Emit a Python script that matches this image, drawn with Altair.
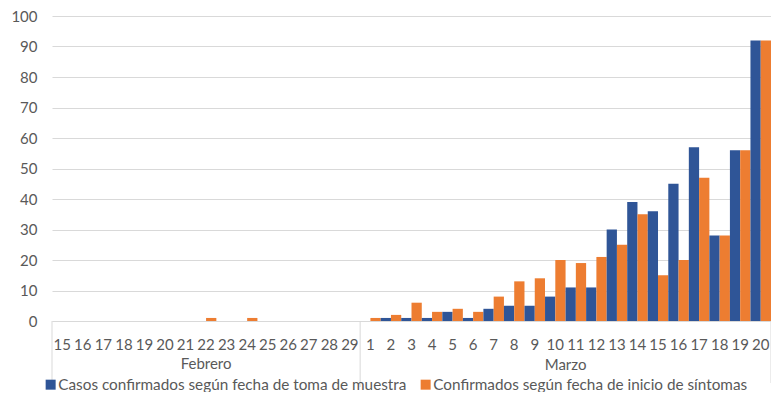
import altair as alt
import pandas as pd

feb_days = list(range(15, 30))
mar_days = list(range(1, 21))
series_names = ["Casos confirmados según fecha de toma de muestra",
                "Confirmados según fecha de inicio de síntomas"]
feb_muestra = [0] * 15
feb_sintomas = [0, 0, 0, 0, 0, 0, 0, 1, 0, 1, 0, 0, 0, 0, 0]
mar_muestra = [0, 1, 1, 1, 3, 1, 4, 5, 5, 8, 11, 11, 30, 39, 36, 45, 57, 28, 56, 92]
mar_sintomas = [1, 2, 6, 3, 4, 3, 8, 13, 14, 20, 19, 21, 25, 35, 15, 20, 47, 28, 56, 92]
groups = ["Febrero", "Marzo"]
colors = ["#2F5597", "#ED7D31"]

keys = [f"F{d}" for d in feb_days] + [f"M{d}" for d in mar_days]
muestra = feb_muestra + mar_muestra
sintomas = feb_sintomas + mar_sintomas

rows = []
for k, a, b in zip(keys, muestra, sintomas):
    rows.append({"key": k, "series": series_names[0], "value": a})
    rows.append({"key": k, "series": series_names[1], "value": b})
df = pd.DataFrame(rows)

FONT = "Lato"
TXT = "#595959"
W, H = 719, 305

xscale = alt.Scale(domain=keys, paddingInner=0, paddingOuter=0)
xaxis = alt.Axis(title=None, labelAngle=0, labelExpr="substring(datum.label, 1)",
                 ticks=False, domainColor="#D9D9D9", labelPadding=16,
                 labelFontSize=15, labelColor=TXT, labelFont=FONT,
                 labelOverlap=False, grid=False)

bars = alt.Chart(df).mark_bar().encode(
    x=alt.X("key:N", sort=keys, scale=xscale, axis=xaxis),
    xOffset=alt.XOffset("series:N", sort=series_names,
                        scale=alt.Scale(domain=series_names, paddingInner=0, paddingOuter=0)),
    y=alt.Y("value:Q", scale=alt.Scale(domain=[0, 100]),
            axis=alt.Axis(title=None, values=list(range(0, 101, 10)), domain=False, ticks=False,
                          gridColor="#D9D9D9", labelPadding=15, labelFontSize=15,
                          labelColor=TXT, labelFont=FONT)),
    color=alt.Color("series:N", sort=series_names,
                    scale=alt.Scale(domain=series_names, range=colors),
                    legend=alt.Legend(title=None, orient="none", legendX=-9, legendY=361,
                                      direction="horizontal", symbolType="square",
                                      symbolSize=100, symbolStrokeWidth=0, labelFontSize=15.3,
                                      labelColor=TXT, labelFont=FONT, labelLimit=0,
                                      labelOffset=0, columnPadding=11)),
)

sep_df = pd.DataFrame({"key": ["F15", "M1"]})
seps = alt.Chart(sep_df).mark_rule(color="#D9D9D9").encode(
    x=alt.X("key:N", sort=keys, scale=xscale, axis=xaxis, bandPosition=0),
    y=alt.value(H), y2=alt.value(H + 66))
sep_end = alt.Chart(pd.DataFrame({"key": ["M20"]})).mark_rule(color="#D9D9D9").encode(
    x=alt.X("key:N", sort=keys, scale=xscale, axis=xaxis, bandPosition=1),
    y=alt.value(H), y2=alt.value(H + 62))

feb_lbl = alt.Chart(pd.DataFrame({"key": ["F22"], "g": [groups[0]]})).mark_text(
    font=FONT, fontSize=15, color=TXT, baseline="middle").encode(
    x=alt.X("key:N", sort=keys, scale=xscale, axis=xaxis, bandPosition=0.5),
    y=alt.value(H + 43), text="g:N")
mar_lbl = alt.Chart(pd.DataFrame({"key": ["M10"], "g": [groups[1]]})).mark_text(
    font=FONT, fontSize=15, color=TXT, baseline="middle").encode(
    x=alt.X("key:N", sort=keys, scale=xscale, axis=xaxis, bandPosition=1),
    y=alt.value(H + 44), text="g:N")

chart = alt.layer(bars, seps, sep_end, feb_lbl, mar_lbl).properties(
    width=W, height=H,
    autosize=alt.AutoSizeParams(type="none"),
    padding={"left": 44, "top": 8, "right": 0, "bottom": 71},
).configure_view(stroke=None)

chart.save("out.html", embed_options={"renderer": "svg", "actions": False})
